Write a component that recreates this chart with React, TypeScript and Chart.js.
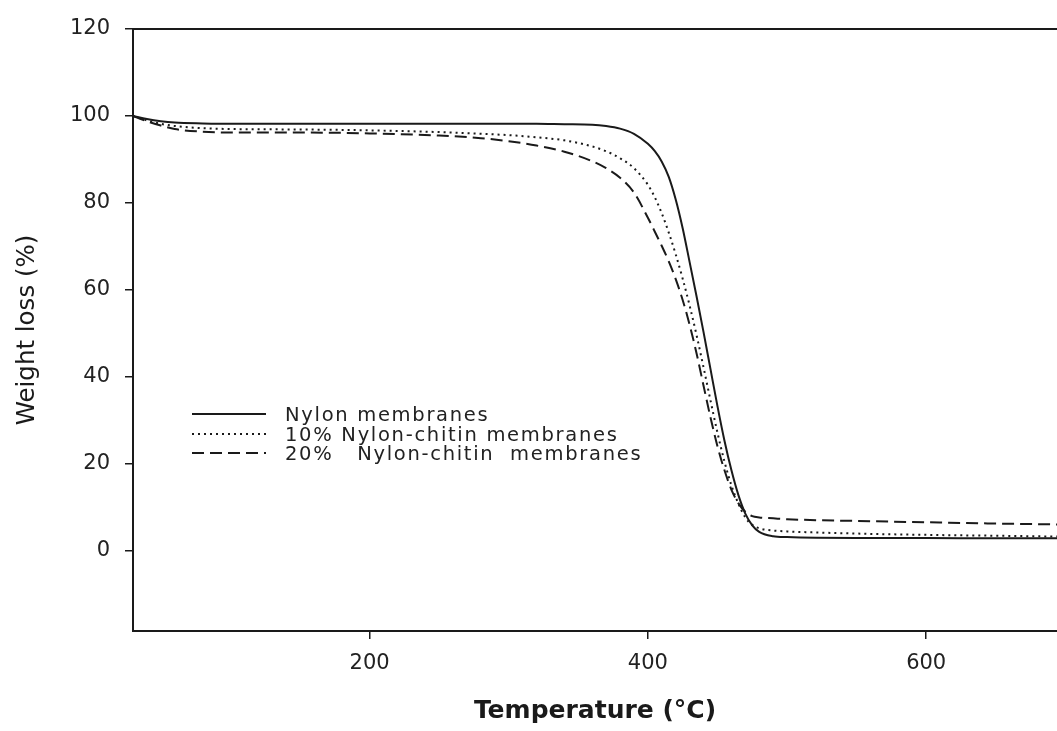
import React, { useEffect, useRef } from "react";
import { Chart, registerables } from "chart.js";

Chart.register(...registerables);

// Temperature grid (°C)
const temperature = [30, 40, 50, 60, 80, 100, 150, 200, 250, 280, 300, 320, 340, 360, 370, 380, 390, 400, 405, 410, 415, 420, 425, 430, 435, 440, 445, 450, 455, 460, 465, 470, 475, 480, 490, 500, 550, 600, 650, 694];

// Weight (%) for each membrane
const nylon = [100, 99.3, 98.8, 98.5, 98.3, 98.2, 98.2, 98.2, 98.2, 98.2, 98.2, 98.2, 98.1, 98.0, 97.7, 97.1, 95.9, 93.6, 91.9, 89.5, 86.0, 80.8, 74.2, 66.4, 58.5, 50.3, 41.8, 33.3, 25.4, 18.6, 12.9, 8.6, 5.9, 4.4, 3.4, 3.2, 3.0, 3.0, 2.9, 2.9];
const nylonChitin10 = [100, 99.0, 98.2, 97.7, 97.2, 97.0, 96.9, 96.7, 96.3, 95.9, 95.6, 95.1, 94.4, 93.0, 91.9, 90.3, 88.0, 84.2, 81.3, 77.6, 73.2, 68.2, 62.6, 56.4, 49.6, 42.2, 34.6, 27.2, 20.6, 15.1, 10.9, 7.7, 6.0, 5.2, 4.7, 4.5, 4.0, 3.7, 3.5, 3.3];
const nylonChitin20 = [100, 98.8, 97.8, 97.0, 96.4, 96.2, 96.2, 96.0, 95.5, 94.9, 94.2, 93.2, 91.8, 89.6, 88.0, 85.8, 82.4, 76.6, 73.4, 70.1, 66.6, 62.5, 57.7, 52.0, 45.4, 38.0, 30.7, 24.1, 18.6, 14.1, 11.0, 9.0, 8.0, 7.7, 7.5, 7.3, 6.9, 6.6, 6.3, 6.1];

const seriesLabels = ["Nylon membranes", "10% Nylon-chitin membranes", "20%   Nylon-chitin  membranes"];
const xTicks = [200, 400, 600];
const yTicks = [0, 20, 40, 60, 80, 100, 120];

const INK = "#1a1a1a";
const TEXT = "#222";
const FONT = "'DejaVu Sans', 'Liberation Sans', Arial, sans-serif";

const toPoints = (ys: number[]) => temperature.map((t, i) => ({ x: t, y: ys[i] }));

const framePlugin = {
  id: "frameAndLegend",
  afterDraw(chart: any) {
    const { ctx, chartArea } = chart;
    ctx.save();
    // top frame line
    ctx.strokeStyle = INK;
    ctx.lineWidth = 2;
    ctx.setLineDash([]);
    ctx.beginPath();
    ctx.moveTo(chartArea.left, chartArea.top);
    ctx.lineTo(chartArea.right, chartArea.top);
    ctx.stroke();

    // legend inside the plot
    const x0 = chartArea.left + 59;
    const x1 = chartArea.left + 133;
    const tx = chartArea.left + 152;
    const rowY = [chartArea.top + 385, chartArea.top + 405, chartArea.top + 424];
    chart.data.datasets.forEach((ds: any, i: number) => {
      const y = rowY[i];
      ctx.strokeStyle = ds.borderColor;
      ctx.lineWidth = ds.borderWidth;
      ctx.lineCap = "butt";
      ctx.setLineDash(ds.borderDash || []);
      ctx.beginPath();
      ctx.moveTo(x0, y);
      ctx.lineTo(x1, y);
      ctx.stroke();
      ctx.setLineDash([]);
      ctx.fillStyle = TEXT;
      ctx.font = `19.5px ${FONT}`;
      (ctx as any).letterSpacing = "1.7px";
      ctx.textAlign = "left";
      ctx.textBaseline = "alphabetic";
      ctx.fillText(ds.label, tx, y + 7);
      (ctx as any).letterSpacing = "0px";
    });
    ctx.restore();
  },
};

export default function App() {
  const canvasRef = useRef<HTMLCanvasElement | null>(null);

  useEffect(() => {
    if (!canvasRef.current) return;
    const chart = new Chart(canvasRef.current, {
      type: "line",
      data: {
        datasets: [
          {
            label: seriesLabels[0],
            data: toPoints(nylon),
            borderColor: INK,
            borderWidth: 2,
            borderDash: [],
            pointRadius: 0,
            cubicInterpolationMode: "monotone",
            fill: false,
          },
          {
            label: seriesLabels[1],
            data: toPoints(nylonChitin10),
            borderColor: INK,
            borderWidth: 2,
            borderDash: [2, 4],
            pointRadius: 0,
            cubicInterpolationMode: "monotone",
            fill: false,
          },
          {
            label: seriesLabels[2],
            data: toPoints(nylonChitin20),
            borderColor: INK,
            borderWidth: 2,
            borderDash: [12, 6],
            pointRadius: 0,
            cubicInterpolationMode: "monotone",
            fill: false,
          },
        ],
      },
      options: {
        responsive: false,
        animation: false,
        layout: { padding: { top: 29, left: 0, right: 0, bottom: 0 } },
        plugins: { legend: { display: false }, tooltip: { enabled: false } },
        scales: {
          x: {
            type: "linear",
            min: 30,
            max: 694,
            afterBuildTicks: (s: any) => {
              s.ticks = xTicks.map((v) => ({ value: v }));
            },
            afterFit: (s: any) => {
              s.height = 100;
            },
            grid: { drawOnChartArea: false, drawTicks: true, tickLength: 8, color: INK, lineWidth: 1.5 },
            border: { color: INK, width: 2 },
            ticks: {
              color: TEXT,
              font: { family: FONT, size: 21 },
              padding: 12,
              maxRotation: 0,
              autoSkip: false,
            },
            title: {
              display: true,
              text: "Temperature (°C)",
              color: INK,
              font: { family: FONT, size: 25, weight: "bold" },
              padding: { top: 0, bottom: 5 },
            },
          },
          y: {
            type: "linear",
            min: -18.4,
            max: 120,
            afterBuildTicks: (s: any) => {
              s.ticks = yTicks.map((v) => ({ value: v }));
            },
            afterFit: (s: any) => {
              s.width = 133;
            },
            grid: { drawOnChartArea: false, drawTicks: true, tickLength: 8, color: INK, lineWidth: 1.5 },
            border: { color: INK, width: 2 },
            ticks: {
              color: TEXT,
              font: { family: FONT, size: 21 },
              padding: 15,
            },
            title: {
              display: true,
              text: "Weight loss (%)",
              color: INK,
              font: { family: FONT, size: 24.5 },
              padding: { top: 13, bottom: 0 },
            },
          },
        },
      },
      plugins: [framePlugin],
    } as any);
    return () => chart.destroy();
  }, []);

  return (
    <div style={{ position: "absolute", left: 0, top: 0, width: 1057, height: 731, background: "#fff" }}>
      <canvas ref={canvasRef} width={1057} height={731} style={{ display: "block" }} />
    </div>
  );
}
